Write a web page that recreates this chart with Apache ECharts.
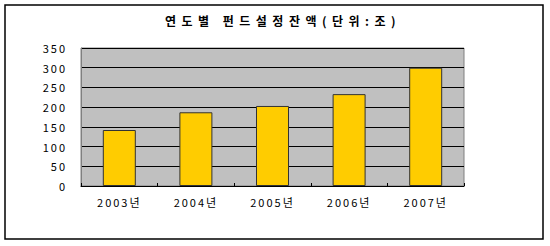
<!DOCTYPE html>
<html><head><meta charset="utf-8">
<script src="https://cdn.jsdelivr.net/npm/echarts@6/dist/echarts.min.js"></script>
<style>
html,body{margin:0;padding:0;background:#fff;}
#c{width:550px;height:246px;}
#c text{letter-spacing:2px;}
#c text.ttl{letter-spacing:5.5px;}
</style>
</head><body><div id="c"></div>
<script>
var titleText = '연도별 펀드설정잔액(단위:조)';
var categories = ['2003년','2004년','2005년','2006년','2007년'];
var values = [142, 187, 203, 233, 300];
var yTicks = {min:0, max:350, interval:50};

var chart = echarts.init(document.getElementById('c'), null, {renderer:'svg'});
var font = '"Noto Sans CJK KR", "DejaVu Sans", sans-serif';
chart.setOption({
  animation:false,
  backgroundColor:'#fff',
  title:{text:titleText, left:278, top:9, textAlign:'center',
    textStyle:{fontFamily:font, fontSize:12, fontWeight:'bold', color:'#000'}},
  graphic:[{type:'rect', shape:{x:5,y:5,width:538,height:234}, style:{fill:'none', stroke:'#000', lineWidth:1.5}, silent:true}],
  grid:{left:81, right:86, top:48, bottom:60, show:true, backgroundColor:'#C0C0C0', borderColor:'#808080', borderWidth:1},
  xAxis:{type:'category', data:categories,
    axisLine:{lineStyle:{color:'#000', width:1}},
    axisTick:{show:true, inside:true, length:3, lineStyle:{color:'#000'}},
    axisLabel:{fontFamily:font, fontSize:11, color:'#000', margin:10}},
  yAxis:{type:'value', min:yTicks.min, max:yTicks.max, interval:yTicks.interval,
    axisLine:{show:true, lineStyle:{color:'#808080'}},
    axisTick:{show:false},
    splitLine:{lineStyle:{color:'#000', width:1}},
    axisLabel:{fontFamily:font, fontSize:11, color:'#000', margin:14}},
  series:[{type:'bar', data:values, barWidth:33,
    itemStyle:{color:'#FFCC00', borderColor:'#333', borderWidth:1}}]
});
// mark the title text element for wider letter spacing
setTimeout(function(){},0);
var texts = document.querySelectorAll('#c text');
texts.forEach(function(t){ if (t.textContent === titleText) t.setAttribute('class','ttl'); });
</script></body></html>
